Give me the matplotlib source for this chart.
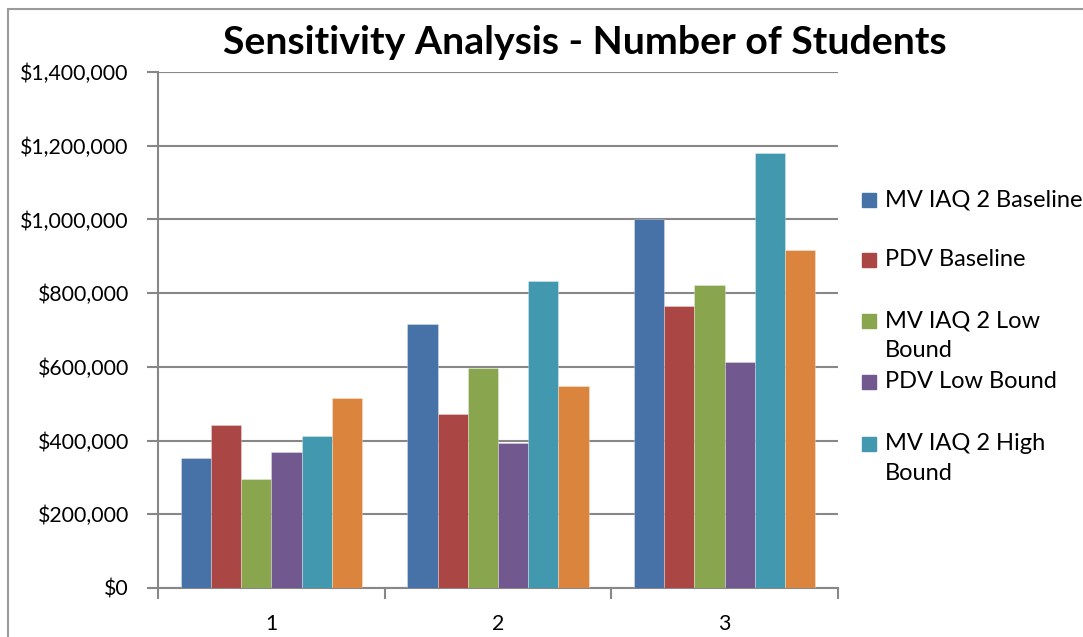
import numpy as np
import matplotlib as mpl; mpl.use('Agg')
import matplotlib.pyplot as plt
from matplotlib.patches import Rectangle
from matplotlib.ticker import FuncFormatter

plt.rcParams['font.family'] = ['Lato', 'DejaVu Sans']

# data
categories = ['1', '2', '3']
series_names = ['MV IAQ 2 Baseline', 'PDV Baseline', 'MV IAQ 2 Low Bound',
                'PDV Low Bound', 'MV IAQ 2 High Bound', 'PDV High Bound']
mv_base = [353000, 715000, 1000000]
pdv_base = [442000, 471000, 764000]
mv_low = [295000, 598000, 823000]
pdv_low = [370000, 393000, 612000]
mv_high = [412000, 834000, 1180000]
pdv_high = [516000, 549000, 916000]
all_values = [mv_base, pdv_base, mv_low, pdv_low, mv_high, pdv_high]
colors = ['#4672A8', '#AA4644', '#89A54E', '#71588F', '#4198AF', '#DB843D']
# legend in the original shows only the first five (last one is cut off)
legend_labels = ['MV IAQ 2 Baseline', 'PDV Baseline', 'MV IAQ 2 Low\nBound',
                 'PDV Low Bound', 'MV IAQ 2 High\nBound']

W, H = 1083, 637
fig = plt.figure(figsize=(W/100, H/100), dpi=100)
ax = fig.add_axes([158/W, 1-588/H, (838-158)/W, (588-72)/H])

x = np.arange(len(categories))
bw = 1/7.5
for i, (vals, c) in enumerate(zip(all_values, colors)):
    ax.bar(x + (i-2.5)*bw, vals, width=bw, color=c, edgecolor=(1, 1, 1, 0.35),
           linewidth=0.6, zorder=3)

ax.set_xlim(-0.5, 2.5)
ax.set_ylim(0, 1400000)
ax.set_yticks(np.arange(0, 1400001, 200000))
ax.yaxis.set_major_formatter(FuncFormatter(lambda v, p: '${:,.0f}'.format(v)))
ax.grid(axis='y', color='#878787', linewidth=1.5, zorder=0)

ax.set_xticks([-0.5, 0.5, 1.5, 2.5])
ax.set_xticklabels([])
ax.set_xticks(x, minor=True)
ax.set_xticklabels(categories, minor=True)
ax.tick_params(axis='x', which='minor', length=0, pad=19, labelsize=15.3)
ax.tick_params(axis='x', which='major', length=8, width=1.5, color='#878787')
ax.tick_params(axis='y', length=8, width=1.5, color='#878787', pad=13, labelsize=15.3)

for s in ['top', 'right']:
    ax.spines[s].set_visible(False)
for s in ['left', 'bottom']:
    ax.spines[s].set_color('#878787')
    ax.spines[s].set_linewidth(1.5)

fig.text(585/W, 1-43/H, 'Sensitivity Analysis - Number of Students',
         ha='center', va='center', fontsize=28.3, fontweight='bold')

# manual legend (Excel-style overlapping layout)
sq_tops = [193, 253, 314, 375, 437]
for lab, c, t in zip(legend_labels, colors, sq_tops):
    fig.patches.append(Rectangle((862/W, 1-(t+14)/H), 14/W, 14/H,
                                 transform=fig.transFigure, color=c))
    fig.text(885/W, 1-(t-4)/H, lab, ha='left', va='top', fontsize=17,
             linespacing=1.5)

# chart border
fig.patches.append(Rectangle((7.5/W, -0.05), 1.2, 1.05 - 9/H,
                             transform=fig.transFigure, fill=False,
                             edgecolor='#9a9a9a', linewidth=1.5))

fig.savefig('out.png', dpi=100)
